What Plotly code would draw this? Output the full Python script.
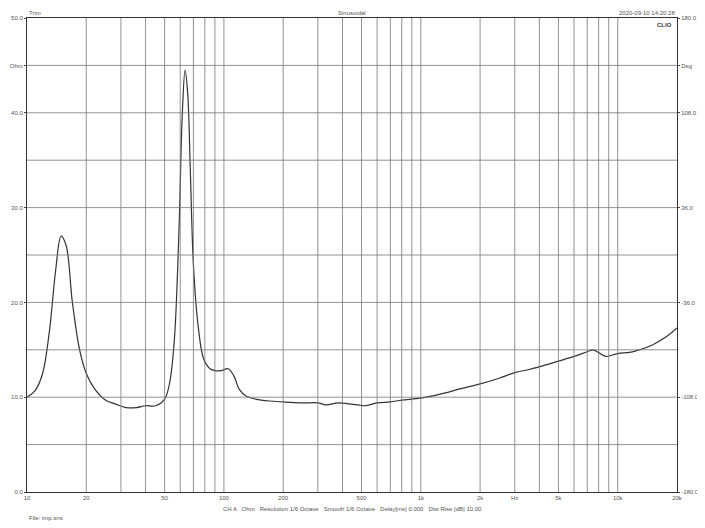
import plotly.graph_objects as go
import numpy as np

freq = [10, 11, 12, 13, 14, 14.9, 15.8, 17, 18.5, 20, 22, 25, 28, 32, 36, 40, 45, 50, 53, 56, 59, 61.5, 63.5, 65.5, 67.5, 70, 74, 79, 85, 90, 97, 105, 112, 120, 130, 145, 170, 200, 250, 300, 330, 380, 430, 480, 520, 600, 700, 800, 1000, 1300, 1600, 2000, 2500, 3000, 3500, 4000, 5000, 6000, 7000, 7500, 8000, 8700, 10000, 12000, 15000, 18000, 20000]
ohm = [10.0, 10.7, 12.5, 17.0, 23.5, 27.0, 26.0, 20.0, 15.0, 12.5, 10.9, 9.7, 9.3, 8.9, 8.9, 9.1, 9.1, 9.8, 11.5, 16.0, 27.0, 40.0, 44.5, 42.0, 34.0, 24.0, 17.5, 14.0, 13.0, 12.8, 12.8, 13.0, 12.3, 10.8, 10.1, 9.8, 9.6, 9.5, 9.4, 9.4, 9.2, 9.4, 9.3, 9.2, 9.1, 9.4, 9.5, 9.7, 9.9, 10.4, 10.9, 11.4, 12.0, 12.6, 12.9, 13.2, 13.8, 14.3, 14.8, 15.0, 14.7, 14.3, 14.6, 14.8, 15.5, 16.5, 17.3]

xtick_vals = [10, 20, 50, 100, 200, 500, 1000, 2000, 3000, 5000, 10000, 20000]
xtick_text = ["10", "20", "50", "100", "200", "500", "1k", "2k", "Hz", "5k", "10k", "20k"]
grid_freqs = [20,30,40,50,60,70,80,90,100,200,300,400,500,600,700,800,900,1000,2000,3000,4000,5000,6000,7000,8000,9000,10000]
ytick_vals = [0, 10, 20, 30, 40, 45, 50]
ytick_text = ["0.0", "10.0", "20.0", "30.0", "40.0", "Ohm", "50.0"]
y2_vals = [-180, -108, -36, 36, 108, 144, 180]
y2_text = ["-180.0", "-108.0", "-36.0", "36.0", "108.0", "Deg", "180.0"]

fig = go.Figure()
fig.add_trace(go.Scatter(x=freq, y=ohm, mode="lines", line=dict(color="#333", width=1.2, shape="spline"), showlegend=False))
fig.add_trace(go.Scatter(x=[10], y=[0], yaxis="y2", mode="markers", marker=dict(opacity=0), showlegend=False, hoverinfo="skip"))
shapes = []
for f in grid_freqs:
    shapes.append(dict(type="line", xref="x", yref="paper", x0=f, x1=f, y0=0, y1=1, line=dict(color="#777", width=0.8)))
for v in range(5, 50, 5):
    shapes.append(dict(type="line", xref="paper", yref="y", x0=0, x1=1, y0=v, y1=v, line=dict(color="#777", width=0.8)))
fig.update_layout(
    width=705, height=528, margin=dict(l=19, r=36, t=10, b=44),
    paper_bgcolor="white", plot_bgcolor="white", shapes=shapes,
    font=dict(family="Liberation Sans", size=6, color="#555"),
    xaxis=dict(type="log", range=[1, np.log10(20000)], tickvals=xtick_vals, ticktext=xtick_text, showgrid=False, showline=True, linecolor="#333", mirror=True, ticks="", automargin=False),
    yaxis=dict(range=[0, 50], tickvals=ytick_vals, ticktext=ytick_text, showgrid=False, showline=True, linecolor="#333", mirror=True, ticks="outside", ticklen=2, zeroline=False, automargin=False),
    yaxis2=dict(range=[-180, 180], overlaying="y", side="right", tickvals=y2_vals, ticktext=y2_text, showgrid=False, ticks="outside", ticklen=2, zeroline=False, automargin=False),
    annotations=[
        dict(text="Trim", x=0.0, y=1.0, xref="paper", yref="paper", xanchor="left", yanchor="bottom", showarrow=False, font=dict(size=6)),
        dict(text="Sinusoidal", x=0.5, y=1.0, xref="paper", yref="paper", yanchor="bottom", showarrow=False, font=dict(size=6)),
        dict(text="2020-09-10 14:20:28", x=1.0, y=1.0, xref="paper", yref="paper", xanchor="right", yanchor="bottom", showarrow=False, font=dict(size=6)),
        dict(text="<b>CLIO</b>", x=0.995, y=0.995, xref="paper", yref="paper", xanchor="right", yanchor="top", showarrow=False, font=dict(size=6, color="#333")),
        dict(text="CH A   Ohm   Resolution 1/6 Octave   Smooth 1/6 Octave   Delay[ms] 0.000   Dist Rise [dB] 10.00", x=0.5, y=-0.025, xref="paper", yref="paper", yanchor="top", showarrow=False, font=dict(size=6)),
        dict(text="File: imp.sns", x=0.0, y=-0.045, xref="paper", yref="paper", xanchor="left", yanchor="top", showarrow=False, font=dict(size=6)),
    ],
)
fig.write_html("out.html")
